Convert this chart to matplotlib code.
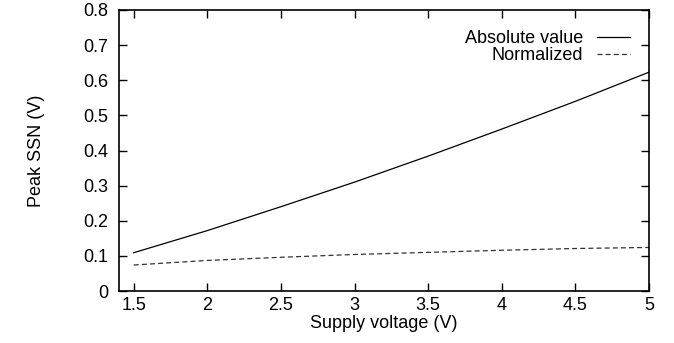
import matplotlib
matplotlib.use('Agg')
from matplotlib import pyplot as plt

plt.rcParams['font.family'] = ['Liberation Sans', 'DejaVu Sans']
plt.rcParams['font.size'] = 13

voltage = [1.5, 2.0, 2.5, 3.0, 3.5, 4.0, 4.5, 5.0]
absoluteSSN = [0.109, 0.172, 0.240, 0.310, 0.384, 0.461, 0.540, 0.623]
normalizedSSN = [0.074, 0.087, 0.096, 0.104, 0.110, 0.116, 0.121, 0.124]

xticks = [1.5, 2, 2.5, 3, 3.5, 4, 4.5, 5]
yticks = [0, 0.1, 0.2, 0.3, 0.4, 0.5, 0.6, 0.7, 0.8]

fig = plt.figure(figsize=(6.74, 3.43), dpi=100)
ax = fig.add_axes([119 / 674, 1 - 291 / 343, (649 - 119) / 674, (291 - 10) / 343])

ax.plot(voltage, absoluteSSN, '-', color='black', linewidth=0.9, label='Absolute value')
ax.plot(voltage, normalizedSSN, '--', color='#333333', linewidth=0.9, dashes=(4, 2.5), label='Normalized')

ax.set_xlim(1.4, 5)
ax.set_ylim(0, 0.8)
ax.set_xticks(xticks)
ax.set_xticklabels(['1.5', '2', '2.5', '3', '3.5', '4', '4.5', '5'])
ax.set_yticks(yticks)
ax.set_yticklabels(['0', '0.1', '0.2', '0.3', '0.4', '0.5', '0.6', '0.7', '0.8'])
ax.tick_params(axis='x', direction='in', top=True, length=6, width=1, pad=4)
ax.tick_params(axis='y', direction='in', right=True, length=6, width=1, pad=8)
for s in ax.spines.values():
    s.set_linewidth(1.2)

ax.set_xlabel('Supply voltage (V)', labelpad=1)
ax.set_ylabel('Peak SSN (V)', labelpad=27)

ax.legend(loc='upper right', frameon=False, markerfirst=False, handlelength=1.8,
          handletextpad=0.8, labelspacing=0.0, borderpad=0, borderaxespad=0,
          bbox_to_anchor=(0.964, 0.928))

plt.savefig('out.png', dpi=100)
